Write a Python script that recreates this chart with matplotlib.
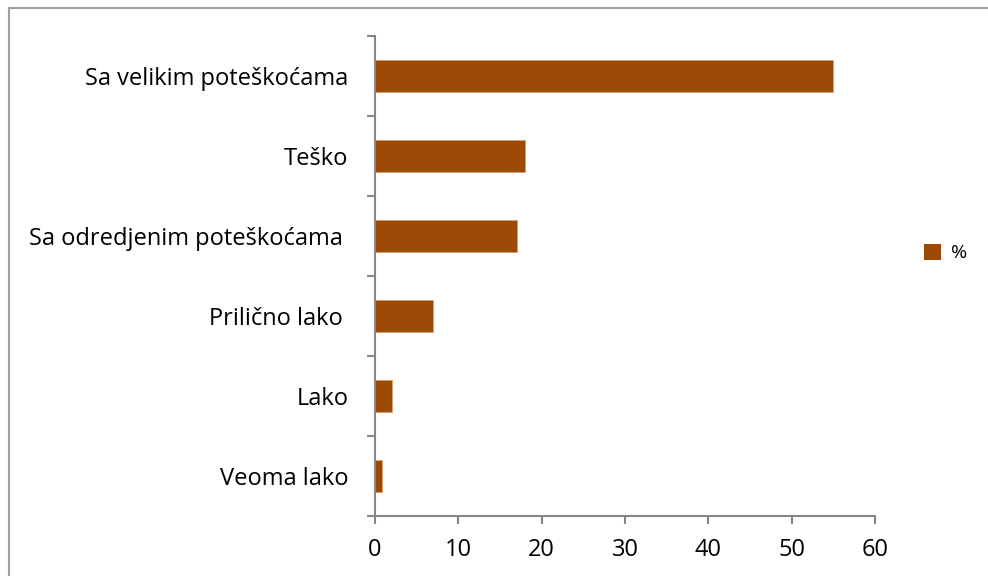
import matplotlib.pyplot as plt
from matplotlib.lines import Line2D
from matplotlib.patches import Patch

categories = ["Veoma lako", "Lako", "Prilično lako ", "Sa odredjenim poteškoćama ",
              "Teško", "Sa velikim poteškoćama"]
values = [0.8, 2, 7, 17, 18, 55]
x_ticks = [0, 10, 20, 30, 40, 50, 60]

bar_color = "#9C4A06"
axis_color = "#868686"

plt.rcParams["font.family"] = ["Open Sans", "DejaVu Sans"]

fig = plt.figure(figsize=(9.88, 5.76), dpi=100)
ax = fig.add_axes([375 / 988, 60 / 576, 500 / 988, 480 / 576])

ax.barh(range(len(categories)), values, height=0.4, color=bar_color,
        edgecolor="#D9A070", linewidth=0.6)

ax.set_xlim(0, 60)
ax.set_ylim(-0.5, len(categories) - 0.5)
ax.set_xticks(x_ticks)
ax.set_xticklabels([str(t) for t in x_ticks], fontsize=17)

# category labels between boundary ticks, like the spreadsheet chart
ax.set_yticks(range(len(categories)))
ax.set_yticklabels(categories, fontsize=17)
ax.tick_params(axis="y", length=0, pad=19)
ax.set_yticks([i - 0.5 for i in range(len(categories) + 1)], minor=True)
ax.tick_params(axis="y", which="minor", length=6, color=axis_color, width=1.5)
ax.tick_params(axis="x", length=6, color=axis_color, width=1.5, pad=10)

for side in ["top", "right"]:
    ax.spines[side].set_visible(False)
for side in ["left", "bottom"]:
    ax.spines[side].set_color(axis_color)
    ax.spines[side].set_linewidth(1.5)

fig.legend(handles=[Patch(facecolor=bar_color, label="%")], loc="center left",
           bbox_to_anchor=(906 / 988, 1 - 253 / 576), frameon=False, fontsize=14,
           handlelength=0.9, handleheight=0.9, handletextpad=0.5)

# outer chart frame (top and left visible)
fig.add_artist(Line2D([9 / 988, 9 / 988], [0, 1 - 8 / 576], color="#A0A0A0",
                      linewidth=1.5, transform=fig.transFigure))
fig.add_artist(Line2D([9 / 988, 1], [1 - 8 / 576, 1 - 8 / 576], color="#A0A0A0",
                      linewidth=1.5, transform=fig.transFigure))

fig.savefig("out.png", dpi=100)
